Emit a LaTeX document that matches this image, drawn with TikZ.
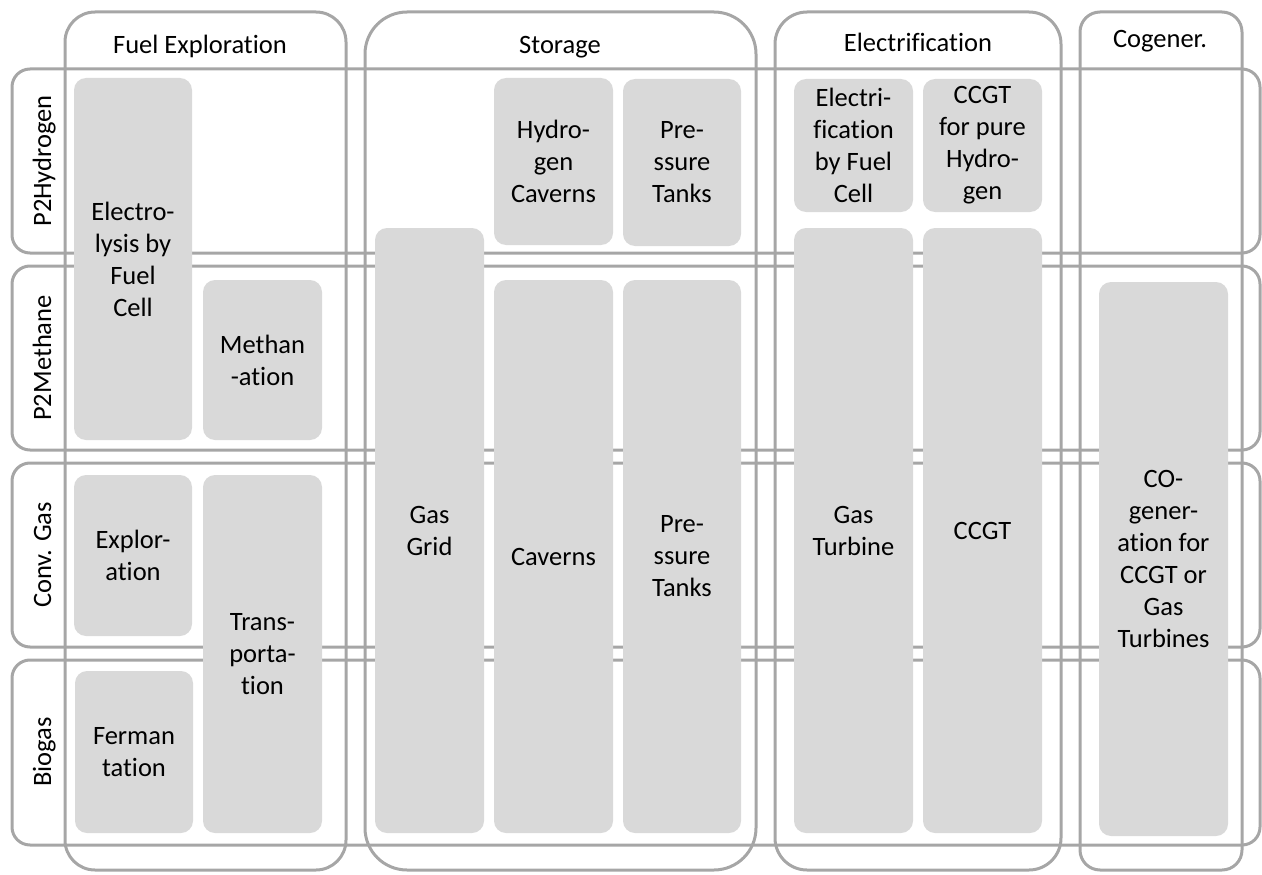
\documentclass[tikz,border=0pt]{standalone}
\usepackage{fontspec}
\setmainfont{Carlito}[Ligatures=NoCommon]
\definecolor{linegray}{HTML}{A6A6A6}
\definecolor{boxgray}{HTML}{D9D9D9}
\newcommand\diafont{\fontsize{26.5pt}{32pt}\selectfont}
\begin{document}
\begin{tikzpicture}[x=1pt,y=-1pt,
  outl/.style={draw=linegray, line width=3pt, inner sep=0pt},
  gbox/.style={fill=boxgray, rounded corners=12pt, inner sep=0pt, align=center, font=\diafont, text=black},
  lbl/.style={font=\diafont, inner sep=0pt, text=black}]
\useasboundingbox (0,0) rectangle (1262,875);
% columns
\node[outl, rounded corners=30pt, minimum width=281pt, minimum height=858pt] (colFE) at (205.5,441) {};
\node[outl, rounded corners=42pt, minimum width=391pt, minimum height=858pt] (colST) at (560.5,441) {};
\node[outl, rounded corners=32pt, minimum width=286pt, minimum height=858pt] (colEL) at (918,441) {};
\node[outl, rounded corners=20pt, minimum width=162pt, minimum height=858pt] (colCG) at (1161,441) {};
% rows
\node[outl, rounded corners=18pt, minimum width=1248pt, minimum height=184pt] (rowH) at (636,161) {};
\node[outl, rounded corners=18pt, minimum width=1248pt, minimum height=184pt] (rowM) at (636,358) {};
\node[outl, rounded corners=18pt, minimum width=1248pt, minimum height=184pt] (rowC) at (636,555) {};
\node[outl, rounded corners=18pt, minimum width=1248pt, minimum height=185pt] (rowB) at (636,752.5) {};
% headers
\node[lbl, anchor=base] (hFE) at (200,54) {Fuel Exploration};
\node[lbl, anchor=base] (hST) at (560,54) {Storage};
\node[lbl, anchor=base] (hEL) at (918,52) {Electrification};
\node[lbl, anchor=base] (hCG) at (1160,48) {Cogener.};
% row labels
\node[lbl, anchor=base, rotate=90] (lH) at (51,161) {P2Hydrogen};
\node[lbl, anchor=base, rotate=90] (lM) at (51,358) {P2Methane};
\node[lbl, anchor=base, rotate=90] (lC) at (51,555) {Conv. Gas};
\node[lbl, anchor=base, rotate=90] (lB) at (51,752) {Biogas};
% boxes
\node[gbox, minimum width=118pt, minimum height=362pt] (elec) at (133,259) {Electro-\\lysis by\\Fuel\\Cell};
\node[gbox, minimum width=119pt, minimum height=160pt] (meth) at (262.5,360) {Methan\\-ation};
\node[gbox, minimum width=118pt, minimum height=161pt] (explo) at (133,555.5) {Explor-\\ation};
\node[gbox, minimum width=118pt, minimum height=162pt] (ferm) at (134,752) {Ferman\\tation};
\node[gbox, minimum width=119pt, minimum height=358pt] (trans) at (262.5,654) {Trans-\\porta-\\tion};
\node[gbox, minimum width=109pt, minimum height=605pt] (grid) at (429.5,530.5) {Gas\\Grid};
\node[gbox, minimum width=119pt, minimum height=167pt] (hcav) at (553.5,161.5) {Hydro-\\gen\\Caverns};
\node[gbox, minimum width=118pt, minimum height=167pt] (ptH) at (682,162.5) {Pre-\\ssure\\Tanks};
\node[gbox, minimum width=119pt, minimum height=553pt] (cav) at (553.5,556.5) {Caverns};
\node[gbox, minimum width=118pt, minimum height=553pt] (pt) at (682,556.5) {Pre-\\ssure\\Tanks};
\node[gbox, minimum width=119pt, minimum height=133pt] (efc) at (853.5,145.5) {Electri-\\fication\\by Fuel\\Cell};
\node[gbox, minimum width=119pt, minimum height=133pt] (ccgth) at (982.5,145.5) {CCGT\\for pure\\Hydro-\\gen};
\node[gbox, minimum width=119pt, minimum height=605pt] (gt) at (853.5,530.5) {Gas\\Turbine};
\node[gbox, minimum width=119pt, minimum height=605pt] (ccgt) at (982.5,530.5) {CCGT};
\node[gbox, minimum width=129pt, minimum height=554pt] (cog) at (1163.5,559) {CO-\\gener-\\ation for\\CCGT or\\Gas\\Turbines};
\end{tikzpicture}
\end{document}
